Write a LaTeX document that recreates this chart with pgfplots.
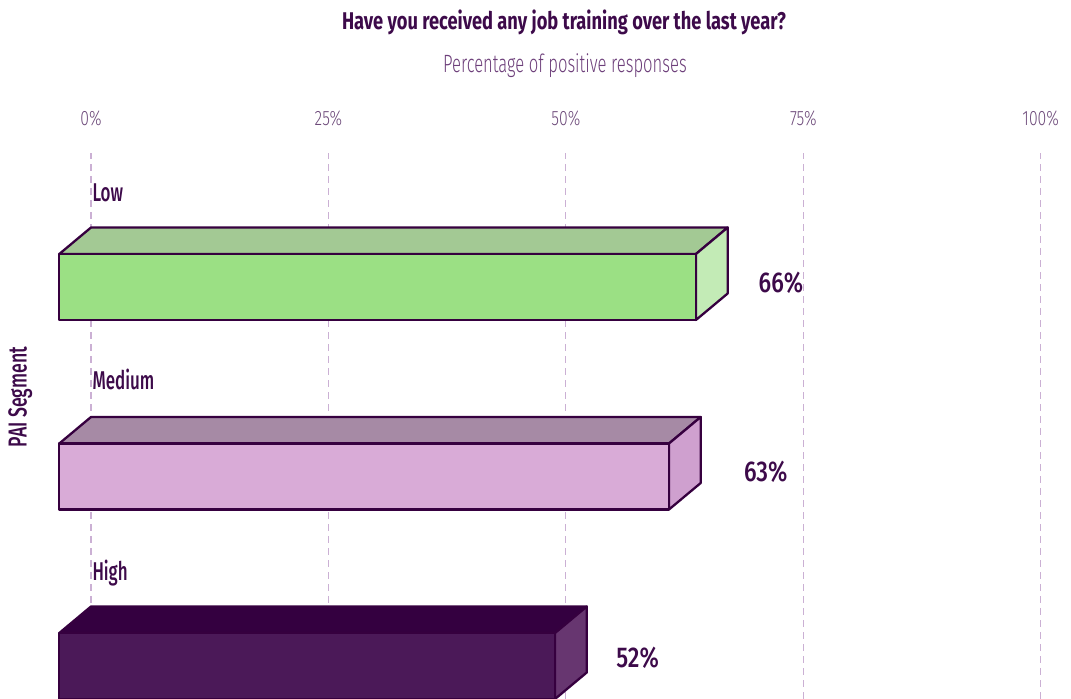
\documentclass[border=0pt]{standalone}
\usepackage{fontspec}
\usepackage{pgfplots}
\pgfplotsset{compat=1.18}
\setmainfont{Fira Sans}[FakeStretch=0.68]
\newfontfamily\fTick{Fira Sans Light}[FakeStretch=0.76]
\newfontfamily\fSub{Fira Sans Light}[FakeStretch=0.665]
\newfontfamily\fCat{Fira Sans Medium}[FakeStretch=0.66]
\newfontfamily\fVal{Fira Sans Medium}[FakeStretch=0.80]
\newfontfamily\fYlab{Fira Sans Medium}[FakeStretch=0.68]
\newfontfamily\fBold{Fira Sans Bold}[FakeStretch=0.755]
\definecolor{outl}{HTML}{36003F}
\definecolor{lowFront}{HTML}{9BE084}
\definecolor{lowTop}{HTML}{A3C994}
\definecolor{lowSide}{HTML}{C3EBB6}
\definecolor{medFront}{HTML}{D9ABD7}
\definecolor{medTop}{HTML}{A68AA5}
\definecolor{medSide}{HTML}{CFA0CF}
\definecolor{highFront}{HTML}{4B1958}
\definecolor{highTop}{HTML}{340040}
\definecolor{highSide}{HTML}{673670}
\definecolor{titlecol}{HTML}{3D0A4A}
\definecolor{subcol}{HTML}{6D3F7A}
\definecolor{tickcol}{HTML}{6D4A7A}
\definecolor{gridcol}{HTML}{CBB0D4}
\begin{document}
\begin{tikzpicture}
\begin{axis}[
  scale only axis, width=1071pt, height=546pt,
  xmin=-9.582, xmax=103.19, ymin=-0.1741, ymax=2.7071,
  axis line style={draw=none}, major tick length=0pt,
  xtick={0,25,50,75,100}, xticklabels={0\%,25\%,50\%,75\%,100\%},
  xticklabel pos=upper, xtick pos=upper,
  xticklabel style={anchor=base, yshift=27pt, inner sep=0pt, font=\fTick\fontsize{20.8pt}{24pt}\selectfont, text=tickcol},
  ytick=\empty,
  xmajorgrids, grid style={gridcol, line width=1.2pt, dash pattern=on 7pt off 5pt},
  clip=false, no markers,
  every axis plot/.append style={draw=outl, line width=2.3pt, line join=round},
]
% Low (label 66%)
\addplot[fill=lowTop]   coordinates {(-3.338,2.1741) (63.70,2.1741) (67.04,2.3139) (0,2.3139)} -- cycle;
\addplot[fill=lowSide]  coordinates {(63.70,1.8259) (67.04,1.9657) (67.04,2.3139) (63.70,2.1741)} -- cycle;
\addplot[fill=lowFront] coordinates {(-3.338,1.8259) (63.70,1.8259) (63.70,2.1741) (-3.338,2.1741)} -- cycle;
% Medium (label 63%)
\addplot[fill=medTop]   coordinates {(-3.338,1.1741) (60.86,1.1741) (64.20,1.3139) (0,1.3139)} -- cycle;
\addplot[fill=medSide]  coordinates {(60.86,0.8259) (64.20,0.9657) (64.20,1.3139) (60.86,1.1741)} -- cycle;
\addplot[fill=medFront] coordinates {(-3.338,0.8259) (60.86,0.8259) (60.86,1.1741) (-3.338,1.1741)} -- cycle;
% High (label 52%)
\addplot[fill=highTop]   coordinates {(-3.338,0.1741) (48.86,0.1741) (52.20,0.3139) (0,0.3139)} -- cycle;
\addplot[fill=highSide]  coordinates {(48.86,-0.1741) (52.20,-0.0343) (52.20,0.3139) (48.86,0.1741)} -- cycle;
\addplot[fill=highFront] coordinates {(-3.338,-0.1741) (48.86,-0.1741) (48.86,0.1741) (-3.338,0.1741)} -- cycle;

% category labels
\node[anchor=base west, inner sep=0pt, font=\fCat\fontsize{25.7pt}{28pt}\selectfont, text=titlecol] at (axis cs:0.14,2.450) {Low};
\node[anchor=base west, inner sep=0pt, font=\fCat\fontsize{25.7pt}{28pt}\selectfont, text=titlecol] at (axis cs:0.14,1.458) {Medium};
\node[anchor=base west, inner sep=0pt, font=\fCat\fontsize{25.7pt}{28pt}\selectfont, text=titlecol] at (axis cs:0.14,0.450) {High};
% value labels
\node[anchor=base, inner sep=0pt, font=\fVal\fontsize{28.6pt}{30pt}\selectfont, text=titlecol] at (axis cs:72.65,1.970) {66\%};
\node[anchor=base, inner sep=0pt, font=\fVal\fontsize{28.6pt}{30pt}\selectfont, text=titlecol] at (axis cs:71.04,0.9736) {63\%};
\node[anchor=base, inner sep=0pt, font=\fVal\fontsize{28.6pt}{30pt}\selectfont, text=titlecol] at (axis cs:57.55,-0.010) {52\%};
% titles
\node[anchor=base, inner sep=0pt, font=\fBold\fontsize{24.2pt}{28pt}\selectfont, text=titlecol] at (rel axis cs:0.5266,1.2266) {Have you received any job training over the last year?};
\node[anchor=base, inner sep=0pt, font=\fSub\fontsize{25pt}{28pt}\selectfont, text=subcol] at (rel axis cs:0.5275,1.1471) {Percentage of positive responses};
% y label
\node[anchor=base, rotate=90, inner sep=0pt, font=\fYlab\fontsize{26pt}{28pt}\selectfont, text=titlecol] at (rel axis cs:0.0249,0.5531) {PAI Segment};
\coordinate (bl) at (rel axis cs:0,0);
\coordinate (tr) at (rel axis cs:1,1.2802);
\end{axis}
\pgfresetboundingbox
\path[use as bounding box] (bl) rectangle (tr);
\end{tikzpicture}
\end{document}
